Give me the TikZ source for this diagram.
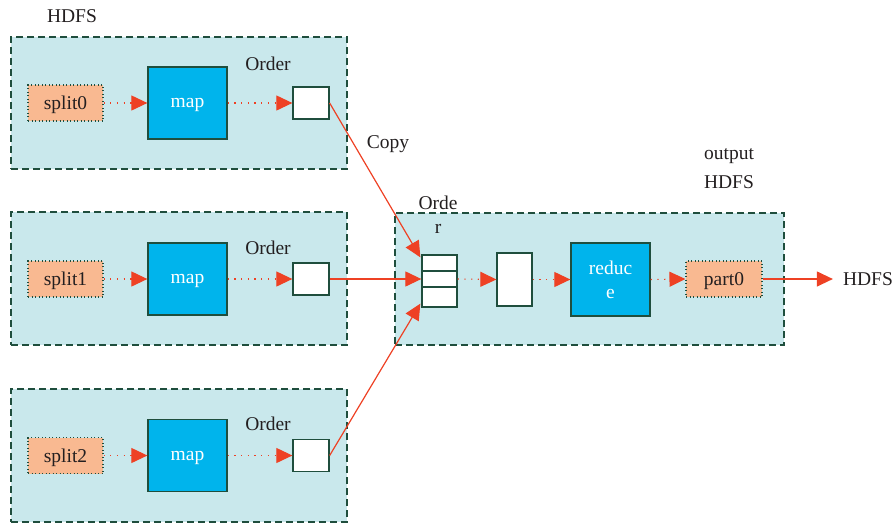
\documentclass[tikz,border=0pt]{standalone}
\usepackage{fontspec}
\setmainfont{Liberation Serif}
\usetikzlibrary{arrows.meta,calc}
\definecolor{boxfill}{HTML}{C9E8EC}
\definecolor{boxline}{HTML}{1F4E3D}
\definecolor{mapfill}{HTML}{00B4EC}
\definecolor{splitfill}{HTML}{F9B991}
\definecolor{arr}{HTML}{EE4124}
\definecolor{txt}{HTML}{231F20}
\begin{document}
\begin{tikzpicture}[x=1pt,y=-1pt,
  font=\fontsize{19.5}{23}\selectfont, text=txt,
  stage/.style={rectangle, fill=boxfill, draw=boxline, line width=1.3pt, dash pattern=on 7pt off 4pt, inner sep=0pt},
  splitbox/.style={rectangle, fill=splitfill, draw=boxline, line width=1.1pt, dash pattern=on 1pt off 2.5pt, minimum width=75pt, minimum height=36pt, inner sep=0pt, text depth=0pt},
  mapbox/.style={rectangle, fill=mapfill, draw=boxline, line width=1.3pt, text=white, minimum width=79pt, minimum height=72pt, inner sep=0pt, align=center, text depth=0pt},
  whitebox/.style={rectangle, fill=white, draw=boxline, line width=1.3pt, inner sep=0pt},
  lbl/.style={inner sep=0pt},
  dotarrow/.style={draw=arr, line width=1.1pt, dash pattern=on 1.2pt off 5.5pt, -{Triangle[length=16pt,width=15pt,fill=arr]}},
  solarrow/.style={draw=arr, line width=1.2pt, -{Triangle[length=16pt,width=15pt,fill=arr]}}
]
\useasboundingbox (0,0) rectangle (896,523);

% stage boxes
\node[stage, minimum width=336pt, minimum height=132pt] (st0) at (179,103) {};
\node[stage, minimum width=336pt, minimum height=133pt] (st1) at (179,278.5) {};
\node[stage, minimum width=336pt, minimum height=133pt] (st2) at (179,455.5) {};
\node[stage, minimum width=389pt, minimum height=132pt] (stR) at (589.5,279) {};

% labels
\node[lbl] (hdfsin) at (72,16) {HDFS};
\node[lbl] (ordl0) at (268,64) {Order};
\node[lbl] (ordl1) at (268,248) {Order};
\node[lbl] (ordl2) at (268,424) {Order};
\node[lbl] (copy) at (388,144) {Copy};
\node[lbl] (ordeA) at (438,203) {Orde};
\node[lbl] (ordeB) at (438,229) {r};
\node[lbl] (outl1) at (729,156) {output};
\node[lbl] (outl2) at (729,182) {HDFS};

% map rows
\foreach \i/\y in {0/103,1/279,2/455.5}{
  \node[splitbox] (sp\i) at (65.5,\y) {split\i};
  \node[mapbox] (map\i) at (187.5,\y) {map};
  \node[whitebox, minimum width=36pt, minimum height=32pt] (ord\i) at (311,\y) {};
  \draw[dotarrow] (sp\i.east) -- (map\i.west);
  \draw[dotarrow] (map\i.east) -- (ord\i.west);
}

% reduce side
\node[whitebox, minimum width=35pt, minimum height=16pt] (stk1) at (439.5,263) {};
\node[whitebox, minimum width=35pt, minimum height=16pt] (stk2) at (439.5,279) {};
\node[whitebox, minimum width=35pt, minimum height=20pt] (stk3) at (439.5,297) {};
\node[whitebox, minimum width=35pt, minimum height=53pt] (mrg) at (514.5,279.5) {};
\node[mapbox, minimum height=73pt] (red) at (610.5,279.5) {reduc\\[1pt]e};
\node[splitbox, minimum width=76pt] (part) at (724,279) {part0};
\node[lbl] (hdfsout) at (868,279) {HDFS};

\draw[dotarrow] (stk2.east) -- (mrg.west);
\draw[dotarrow] (mrg.east) -- (red.west);
\draw[dotarrow] (red.east) -- (part.west);

% copy arrows
\coordinate (t0) at ($(stk1.north west)+(-1,3)$);
\coordinate (t2) at ($(stk3.south west)+(-1,-4)$);
\draw[solarrow] (ord0.east) -- (t0);
\draw[solarrow] (ord1.east) -- (stk2.west);
\draw[solarrow] (ord2.east) -- (t2);
\draw[solarrow] (part.east) -- ($(hdfsout.west)+(-10,0)$);
\end{tikzpicture}
\end{document}
